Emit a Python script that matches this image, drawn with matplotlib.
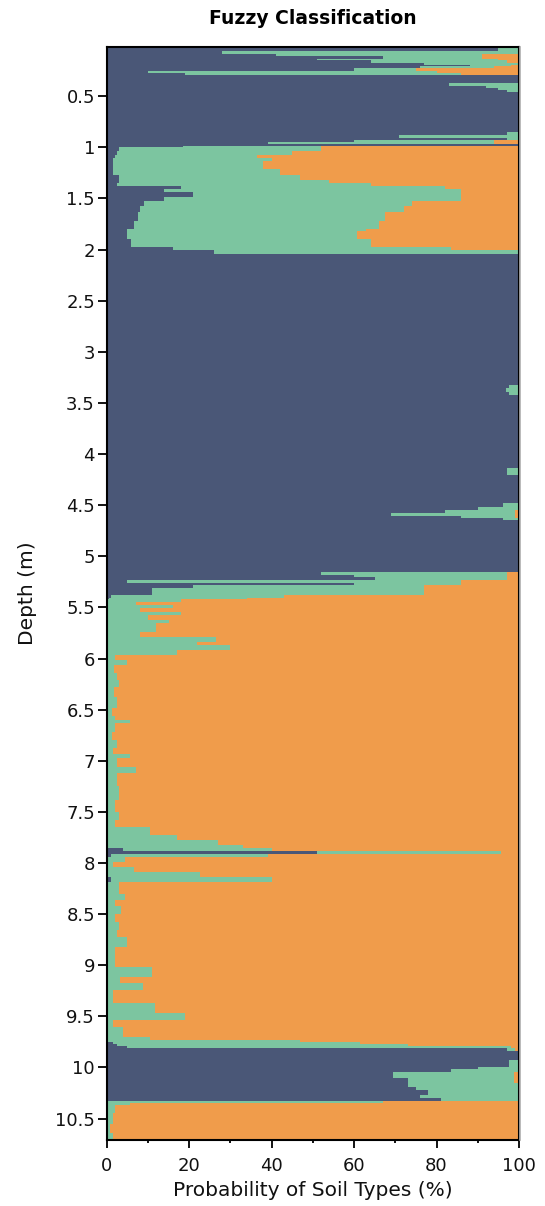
import matplotlib
matplotlib.use("Agg")
import matplotlib.pyplot as plt
from matplotlib.ticker import MultipleLocator, FuncFormatter
from matplotlib.lines import Line2D

# Fuzzy soil classification profile: depth (m, top of each step) and
# probability (%) of each soil type over that step.
depth = [
    0.015, 0.060, 0.085, 0.110, 0.135, 0.150, 0.170, 0.190, 0.205, 0.228,
    0.252, 0.270, 0.290, 0.375, 0.395, 0.420, 0.440, 0.460, 0.850, 0.880,
    0.912, 0.930, 0.950, 0.970, 0.985, 1.000, 1.040, 1.070, 1.100, 1.130,
    1.215, 1.275, 1.315, 1.345, 1.380, 1.410, 1.440, 1.490, 1.525, 1.575,
    1.635, 1.720, 1.800, 1.820, 1.900, 1.975, 2.005, 2.045, 3.327, 3.356,
    3.395, 3.425, 4.139, 4.207, 4.481, 4.521, 4.550, 4.575, 4.604, 4.628,
    4.648, 5.154, 5.181, 5.201, 5.230, 5.261, 5.284, 5.313, 5.377, 5.406,
    5.421, 5.450, 5.479, 5.509, 5.548, 5.577, 5.626, 5.656, 5.744, 5.793,
    5.841, 5.871, 5.920, 5.969, 6.018, 6.067, 6.145, 6.210, 6.280, 6.380,
    6.480, 6.560, 6.605, 6.630, 6.720, 6.800, 6.880, 6.930, 6.970, 7.060,
    7.120, 7.250, 7.380, 7.500, 7.583, 7.652, 7.730, 7.779, 7.828, 7.857,
    7.883, 7.909, 7.945, 7.994, 8.043, 8.092, 8.141, 8.190, 8.300, 8.360,
    8.420, 8.500, 8.580, 8.659, 8.728, 8.826, 9.022, 9.119, 9.178, 9.247,
    9.374, 9.472, 9.540, 9.609, 9.706, 9.736, 9.755, 9.775, 9.795, 9.814,
    9.843, 9.932, 10.000, 10.020, 10.049, 10.108, 10.150, 10.196, 10.225, 10.274,
    10.303, 10.330, 10.343, 10.372, 10.450, 10.550, 10.640,
]
clay = [
    95, 28, 41, 67, 51, 64, 77, 88, 76, 60,
    10, 19, 100, 83, 92, 95, 97, 100, 97, 71,
    97, 60, 39, 100, 18.5, 3, 2.5, 2, 1.5, 1.5,
    1.5, 3, 3, 2.5, 18, 14, 21, 14, 9, 8,
    7.5, 6.5, 5, 4.8, 6, 16, 26, 100, 97.5, 96.8,
    97.5, 100, 97, 100, 96, 90, 82, 69, 86, 96,
    100, 52, 60, 65, 5, 60, 21, 11, 1, 0.5,
    0, 0, 0, 0, 0, 0, 0, 0, 0, 0,
    0, 0, 0, 0, 0, 0, 0, 0, 0, 0,
    0, 0, 0, 0, 0, 0, 0, 0, 0, 0,
    0, 0, 0, 0, 0, 0, 0, 0, 0, 4,
    51, 1, 0, 0, 0, 0, 1, 0, 0, 0,
    0, 0, 0, 0, 0, 0, 0, 0, 0, 0,
    0, 0, 0, 0, 0, 0, 1.5, 2.4, 5, 97,
    100, 97.5, 90, 83.5, 69.5, 73, 73, 75, 78, 76,
    81, 0, 0, 0, 0, 0, 0,
]
silt = [
    5, 72, 50, 24, 44, 33, 23, 10, 18, 15,
    70, 67, 0, 17, 8, 5, 3, 0, 3, 29,
    3, 34, 55, 0, 33.5, 49, 42.5, 34.5, 38.5, 36.5,
    40.5, 44, 51, 61.5, 64, 72, 65, 72, 65, 64,
    60, 59.5, 58, 56, 58, 67.5, 74, 0, 2.5, 3.2,
    2.5, 0, 3, 0, 4, 10, 17, 30, 13, 4,
    0, 45, 37, 32, 81, 26, 56, 66, 42, 33.5,
    18, 7, 16, 8, 18, 10, 15, 12, 8, 26.5,
    22, 30, 17, 2, 5, 1.8, 2.5, 3, 1.8, 2.5,
    1.2, 2, 5.6, 2, 1.2, 2.5, 1.5, 5.6, 2.5, 7,
    2.5, 3, 2, 3, 2, 10.5, 17, 27, 33, 36,
    44.6, 38, 4.4, 1.5, 6.5, 22.6, 39, 3, 4.5, 2,
    3.5, 2, 3, 2.5, 4.8, 2, 11, 3.2, 8.8, 1.5,
    11.6, 19, 1.5, 4, 10.5, 47, 60, 70.6, 93, 2,
    0, 2.5, 10, 16.5, 29.3, 25.8, 27, 25, 22, 24,
    19, 67, 5.6, 2, 1.5, 0.8, 1.5,
]
sand = [
    0, 0, 9, 9, 5, 3, 0, 2, 6, 25,
    20, 14, 0, 0, 0, 0, 0, 0, 0, 0,
    0, 6, 6, 0, 48, 48, 55, 63.5, 60, 62,
    58, 53, 46, 36, 18, 14, 14, 14, 26, 28,
    32.5, 34, 37, 39.2, 36, 16.5, 0, 0, 0, 0,
    0, 0, 0, 0, 0, 0, 1, 1, 1, 0,
    0, 3, 3, 3, 14, 14, 23, 23, 57, 66,
    82, 93, 84, 92, 82, 90, 85, 88, 92, 73.5,
    78, 70, 83, 98, 95, 98.2, 97.5, 97, 98.2, 97.5,
    98.8, 98, 94.4, 98, 98.8, 97.5, 98.5, 94.4, 97.5, 93,
    97.5, 97, 98, 97, 98, 89.5, 83, 73, 67, 60,
    4.4, 61, 95.6, 98.5, 93.5, 77.4, 60, 97, 95.5, 98,
    96.5, 98, 97, 97.5, 95.2, 98, 89, 96.8, 91.2, 98.5,
    88.4, 81, 98.5, 96, 89.5, 53, 38.5, 27, 2, 1,
    0, 0, 0, 0, 1.2, 1.2, 0, 0, 0, 0,
    0, 33, 94.4, 98, 98.5, 99.2, 98.5,
]

depth_top, depth_bottom = 0.015, 10.71
x_ticks = [0, 20, 40, 60, 80, 100]

COL_CLAY = "#4a5777"
COL_SILT = "#7cc5a0"
COL_SAND = "#f09c4b"

# close the last step at the bottom of the profile
d = depth + [depth_bottom]
c = clay + [clay[-1]]
s = silt + [silt[-1]]
n = sand + [sand[-1]]
c_s = [a + b for a, b in zip(c, s)]
total = [a + b for a, b in zip(c_s, n)]

fig = plt.figure(figsize=(5.45, 12.06), dpi=100)
ax = fig.add_axes([0.1958, 0.0547, 0.7565, 0.9066])

# stacked layers: clay-like (left), silt-like (middle), sand-like (right)
ax.fill_betweenx(d, 0, total, step="post", color=COL_SAND, lw=0)
ax.fill_betweenx(d, 0, c_s, step="post", color=COL_SILT, lw=0)
ax.fill_betweenx(d, 0, c, step="post", color=COL_CLAY, lw=0)

ax.set_xlim(0, 100)
ax.set_ylim(depth_bottom, depth_top)

ax.set_xticks(x_ticks)
ax.xaxis.set_minor_locator(MultipleLocator(10))
ax.yaxis.set_major_locator(MultipleLocator(0.5))
ax.yaxis.set_major_formatter(FuncFormatter(lambda v, p: f"{v:g}"))

ax.tick_params(axis="both", which="major", direction="out", labelsize=13,
               width=1.3, color="black", labelcolor="#111111")
ax.tick_params(axis="y", which="major", length=6.5, pad=2)
ax.tick_params(axis="x", which="major", length=5.5, pad=7)
ax.tick_params(axis="x", which="minor", direction="out", length=2.5, width=1.3)

for sp in ax.spines.values():
    sp.set_linewidth(1.5)
    sp.set_color("black")

ax.set_xlabel("Probability of Soil Types (%)", fontsize=14.5, color="#111111",
              labelpad=4)
ax.set_ylabel("Depth (m)", fontsize=14.5, color="#111111", labelpad=13)
ax.set_title("Fuzzy Classification", fontsize=13.5, fontweight="bold", pad=16)

# soft grey edge along the right side of the plot frame
fig.add_artist(Line2D([0.9545, 0.9545], [0.0547, 0.9613], color="#b0b0b0",
                      lw=1.2, transform=fig.transFigure))

fig.savefig("out.png", dpi=100)
